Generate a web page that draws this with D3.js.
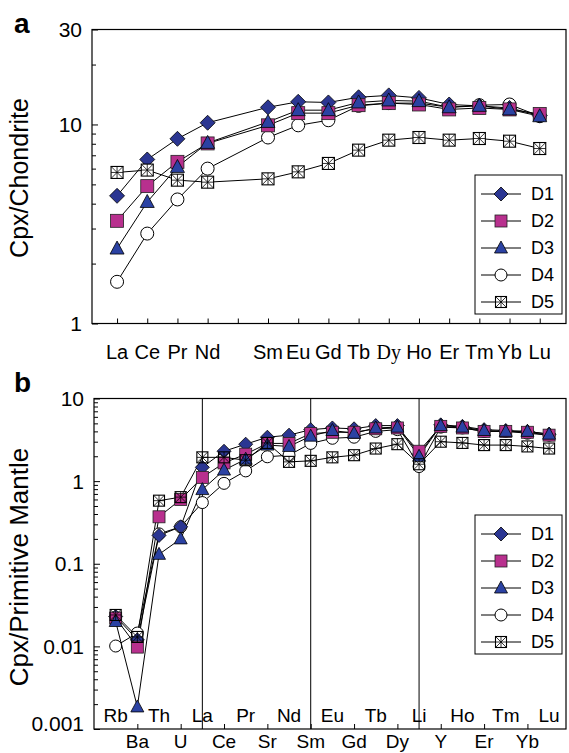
<!DOCTYPE html>
<html>
<head>
<meta charset="utf-8">
<script src="https://cdn.jsdelivr.net/npm/d3@7"></script>
<style>
body { margin: 0; background: #fff; }
text { font-family: "Liberation Sans", Arial, sans-serif; fill: #000; }
</style>
</head>
<body>
<div id="chart"></div>
<script>
// ---- panel a : Cpx / Chondrite (REE) ----
var reeLabels = ["La","Ce","Pr","Nd","","Sm","Eu","Gd","Tb","Dy","Ho","Er","Tm","Yb","Lu"];
var reeD1 = [4.38, 6.67, 8.47, 10.2, null, 12.2, 13.0, 12.9, 13.7, 14.0, 13.6, 12.6, 12.4, 12.1, 11.1];
var reeD2 = [3.28, 4.90, 6.49, 8.03, null, 9.9, 11.4, 11.4, 12.5, 12.8, 12.6, 11.9, 12.1, 11.9, 11.3];
var reeD3 = [2.38, 4.08, 6.12, 8.08, null, 10.3, 11.8, 11.8, 12.9, 13.2, 13.1, 12.2, 12.4, 11.9, 11.0];
var reeD4 = [1.62, 2.83, 4.20, 6.00, null, 8.6, 9.9, 10.5, 12.4, 12.8, 12.8, 12.2, 12.5, 12.6, 11.0];
var reeD5 = [5.74, 5.90, 5.25, 5.13, null, 5.33, 5.78, 6.37, 7.43, 8.34, 8.6, 8.34, 8.5, 8.24, 7.57];
var reeTicks = [1, 10, 30];
var reeTickLabels = ["1", "10", "30"];

// ---- panel b : Cpx / Primitive Mantle (spider) ----
var pmLabels = ["Rb","Ba","Th","U","La","Ce","Pr","Sr","Nd","Sm","Eu","Gd","Tb","Dy","Li","Y","Ho","Er","Tm","Yb","Lu"];
var pmD1 = [0.023, 0.012, 0.22, 0.28, 1.47, 2.30, 2.80, 3.40, 3.60, 4.20, 4.40, 4.30, 4.70, 4.70, 2.10, 4.80, 4.60, 4.20, 4.10, 4.00, 3.70];
var pmD2 = [0.022, 0.0098, 0.37, 0.60, 1.11, 1.66, 2.12, 2.86, 2.86, 3.76, 3.90, 3.90, 4.30, 4.40, 2.30, 4.60, 4.40, 4.00, 4.00, 3.90, 3.60];
var pmD3 = [0.020, 0.00185, 0.13, 0.20, 0.79, 1.36, 1.84, 2.73, 2.63, 3.50, 4.10, 3.80, 4.40, 4.50, 2.00, 4.70, 4.50, 4.10, 4.00, 4.00, 3.70];
var pmD4 = [0.0101, 0.0145, 0.23, 0.28, 0.55, 0.94, 1.33, 1.97, 2.06, 2.86, 3.30, 3.40, 4.00, 4.20, 1.50, 4.50, 4.40, 4.00, 4.00, 3.80, 3.60];
var pmD5 = [0.024, 0.013, 0.58, 0.64, 1.94, 1.94, 1.79, 2.90, 1.71, 1.76, 1.94, 2.06, 2.48, 2.80, 1.60, 3.00, 2.90, 2.73, 2.73, 2.63, 2.48];
var pmTicks = [0.001, 0.01, 0.1, 1, 10];
var pmTickLabels = ["0.001", "0.01", "0.1", "1", "10"];
var pmGuides = ["La", "Sm", "Li"];

var seriesNames = ["D1", "D2", "D3", "D4", "D5"];
var seriesMarks = ["diamond", "square", "triangle", "circle", "boxstar"];
var seriesColors = ["#2b3692", "#b8308e", "#2b42a3", "#ffffff", "#ffffff"];
var drawOrder = [3, 0, 1, 2, 4];

var svg = d3.select("#chart").append("svg")
    .attr("width", 569).attr("height", 753);

// draws one marker centred on 0,0 inside sel
function addMarker(sel, k, s, boxFill){
    var h = s / 2;
    var kind = seriesMarks[k], col = seriesColors[k];
    if (kind == "diamond") {
        sel.append("path")
            .attr("d", "M0," + (-h - 1) + "L" + (h + 1) + ",0L0," + (h + 1) + "L" + (-h - 1) + ",0Z")
            .attr("fill", col).attr("stroke", "#000").attr("stroke-width", 0.8);
    } else if (kind == "square") {
        sel.append("rect").attr("x", -h).attr("y", -h).attr("width", s).attr("height", s)
            .attr("fill", col).attr("stroke", "#222").attr("stroke-width", 0.8);
    } else if (kind == "triangle") {
        sel.append("path")
            .attr("d", "M0," + (-h - 1) + "L" + (h + 0.5) + "," + (h - 1) + "L" + (-h - 0.5) + "," + (h - 1) + "Z")
            .attr("fill", col).attr("stroke", "#000").attr("stroke-width", 0.8);
    } else if (kind == "circle") {
        sel.append("circle").attr("r", h).attr("fill", col).attr("stroke", "#000").attr("stroke-width", 1);
    } else {
        var b = h - 0.5;
        sel.append("rect").attr("x", -b).attr("y", -b).attr("width", 2 * b).attr("height", 2 * b)
            .attr("fill", boxFill).attr("stroke", "#000").attr("stroke-width", 1.1);
        sel.append("path")
            .attr("d", "M" + (-b) + "," + (-b) + "L" + b + "," + b + "M" + b + "," + (-b) + "L" + (-b) + "," + b +
                       "M0," + (-b) + "L0," + b + "M" + (-b) + ",0L" + b + ",0")
            .attr("stroke", "#000").attr("stroke-width", 0.8);
    }
}

function drawPanel(cfg){
    var g = svg.append("g");
    var x = d3.scaleLinear().domain(cfg.xDomain).range([cfg.left, cfg.right]);
    var y = d3.scaleLog().domain(cfg.yDomain).range([cfg.bottom, cfg.top]);

    // minor log ticks
    var minor = [];
    var lo = Math.round(Math.log10(cfg.yDomain[0])), hi = Math.ceil(Math.log10(cfg.yDomain[1]));
    for (var e = lo; e < hi; e++) {
        for (var m = 2; m <= 9; m++) {
            var v = m * Math.pow(10, e);
            if (v < cfg.yDomain[1]) minor.push(v);
        }
    }
    g.append("g").attr("transform", "translate(" + cfg.left + ",0)")
        .call(d3.axisLeft(y).tickValues(minor).tickSize(-4).tickFormat(""))
        .call(function(a){ a.select(".domain").remove(); });
    g.append("g").attr("transform", "translate(" + cfg.left + ",0)")
        .call(d3.axisLeft(y).tickValues(cfg.yTicks).tickSize(-6).tickFormat(""))
        .call(function(a){ a.select(".domain").remove(); });

    cfg.yTicks.forEach(function(t, i){
        // lowest label sits a little above the corner, as in the original
        var yy = y(t) - (i == 0 && cfg.lowShift ? cfg.lowShift : 0);
        g.append("text").attr("x", cfg.left - 10).attr("y", yy)
            .attr("text-anchor", "end").attr("dy", "0.36em")
            .style("font-size", "21px").text(cfg.yTickLabels[i]);
    });

    // x ticks
    g.append("g").attr("transform", "translate(0," + cfg.bottom + ")")
        .call(d3.axisBottom(x).tickValues(cfg.xTicks).tickSize(-5).tickFormat(""))
        .call(function(a){ a.select(".domain").remove(); });

    // guide lines (panel b)
    (cfg.guides || []).forEach(function(name){
        var xi = x(cfg.labels.indexOf(name));
        g.append("line").attr("x1", xi).attr("x2", xi).attr("y1", cfg.top).attr("y2", cfg.bottom)
            .attr("stroke", "#000").attr("stroke-width", 1);
    });

    // frame
    g.append("rect").attr("x", cfg.left).attr("y", cfg.top)
        .attr("width", cfg.right - cfg.left).attr("height", cfg.bottom - cfg.top)
        .attr("fill", "none").attr("stroke", "#000").attr("stroke-width", 1.2);

    // lines
    var line = d3.line().x(function(d){ return x(d.i); }).y(function(d){ return y(d.v); });
    var pts = cfg.series.map(function(vals){
        return vals.map(function(v, i){ return {i: i, v: v}; }).filter(function(d){ return d.v != null; });
    });
    pts.forEach(function(p){
        g.append("path").datum(p).attr("d", line)
            .attr("fill", "none").attr("stroke", "#000").attr("stroke-width", 1);
    });

    // markers
    drawOrder.forEach(function(k){
        pts[k].forEach(function(d){
            var m = g.append("g").attr("transform", "translate(" + x(d.i) + "," + y(d.v) + ")");
            addMarker(m, k, cfg.markSize, cfg.boxFill);
        });
    });

    // legend
    var L = cfg.legend;
    g.append("rect").attr("x", L.x).attr("y", L.y).attr("width", L.w).attr("height", L.h)
        .attr("fill", "#fff").attr("stroke", "#000").attr("stroke-width", 1);
    seriesNames.forEach(function(name, k){
        var yy = L.y + 19 + k * 27;
        g.append("line").attr("x1", L.x + 6).attr("x2", L.x + 46).attr("y1", yy).attr("y2", yy)
            .attr("stroke", "#000").attr("stroke-width", 1);
        var m = g.append("g").attr("transform", "translate(" + (L.x + 26) + "," + yy + ")");
        addMarker(m, k, 12, "#fff");
        g.append("text").attr("x", L.x + 56).attr("y", yy).attr("dy", "0.36em")
            .style("font-size", "18px").text(name);
    });

    // y title + panel letter
    g.append("text").attr("transform", "translate(" + cfg.titleX + "," + cfg.titleY + ") rotate(-90)")
        .attr("text-anchor", "middle").style("font-size", cfg.titleSize).text(cfg.title);
    g.append("text").attr("x", 14).attr("y", cfg.letterY)
        .style("font-size", "28px").style("font-weight", "bold").text(cfg.letter);

    return x;
}

// panel a
var xa = drawPanel({
    left: 92, right: 566, top: 29.5, bottom: 323.5,
    xDomain: [-0.83, 14.87], yDomain: [1, 30],
    xTicks: d3.range(reeLabels.length),
    yTicks: reeTicks, yTickLabels: reeTickLabels,
    labels: reeLabels,
    series: [reeD1, reeD2, reeD3, reeD4, reeD5],
    markSize: 13, boxFill: "#fff",
    legend: {x: 475, y: 175, w: 87, h: 139},
    title: "Cpx/Chondrite", titleX: 28, titleY: 178, titleSize: "25px",
    letter: "a", letterY: 33
});
reeLabels.forEach(function(name, i){
    if (!name) return;
    svg.append("text").attr("x", xa(i)).attr("y", 359).attr("text-anchor", "middle")
        .style("font-size", "20px")
        .style("font-family", name == "Dy" ? "'Liberation Serif', 'Times New Roman', serif" : null)
        .text(name);
});

// panel b
var xb = drawPanel({
    left: 94, right: 566, top: 398.5, bottom: 729,
    xDomain: [-1, 20.78], yDomain: [0.001, 10],
    xTicks: d3.range(1, pmLabels.length, 2),
    yTicks: pmTicks, yTickLabels: pmTickLabels, lowShift: 6,
    labels: pmLabels,
    series: [pmD1, pmD2, pmD3, pmD4, pmD5],
    markSize: 12, boxFill: "none",
    guides: pmGuides,
    legend: {x: 475, y: 515, w: 87, h: 139},
    title: "Cpx/Primitive Mantle", titleX: 28, titleY: 567, titleSize: "26px",
    letter: "b", letterY: 392
});
pmLabels.forEach(function(name, i){
    svg.append("text").attr("x", xb(i)).attr("y", i % 2 == 0 ? 722 : 748)
        .attr("text-anchor", "middle").style("font-size", "19px").text(name);
});
</script>
</body>
</html>
